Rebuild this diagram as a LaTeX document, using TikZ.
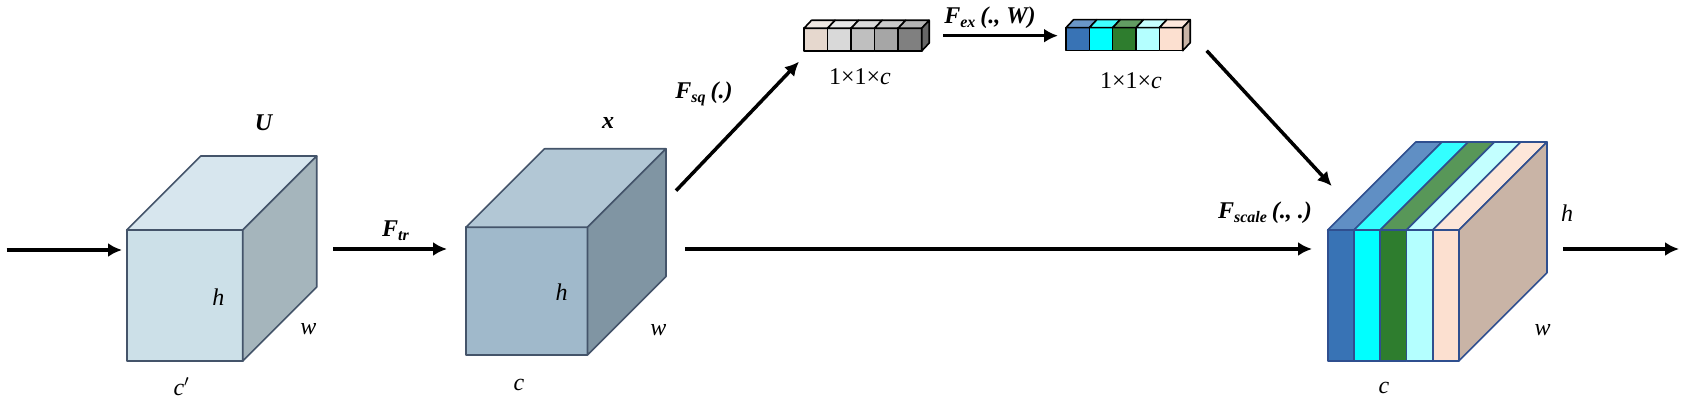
\documentclass[tikz,border=0pt]{standalone}
\usepackage{fontspec}
\setmainfont{Liberation Serif}
\usetikzlibrary{arrows.meta}

\definecolor{ufront}{RGB}{204,224,232}
\definecolor{utop}{RGB}{215,230,238}
\definecolor{uside}{RGB}{165,181,188}
\definecolor{xfront}{RGB}{160,185,203}
\definecolor{xtop}{RGB}{178,199,213}
\definecolor{xside}{RGB}{128,149,163}
\definecolor{cubeedge}{RGB}{68,84,106}
\definecolor{outedge}{RGB}{47,79,143}
\definecolor{outside}{RGB}{201,180,166}
\definecolor{ga}{RGB}{230,216,206}
\definecolor{gb}{RGB}{217,217,217}
\definecolor{gc}{RGB}{191,191,191}
\definecolor{gd}{RGB}{166,166,166}
\definecolor{ge}{RGB}{128,128,128}
\definecolor{ca}{RGB}{56,115,181}
\definecolor{cb}{RGB}{0,255,255}
\definecolor{cc}{RGB}{46,125,46}
\definecolor{cd}{RGB}{180,255,255}
\definecolor{ce}{RGB}{252,224,208}

\newcommand{\bi}[1]{\textbf{\textit{#1}}}
\newcommand{\cuboid}[8]{%
  \filldraw[fill=#6] (#1,#2) rectangle ++(#3,#4);
  \filldraw[fill=#7] (#1,#2) -- ++(#5,-#5) -- ++(#3,0) -- ++(-#5,#5) -- cycle;
  \filldraw[fill=#8] (#1+#3,#2) -- ++(#5,-#5) -- ++(0,#4) -- ++(-#5,#5) -- cycle;
}

\begin{document}
\begin{tikzpicture}[x=0.5pt,y=-0.5pt,
    flow/.style={-{Latex[length=7pt,width=7pt]}, line width=1.75pt},
    lbl/.style={font=\fontsize{12}{14}\selectfont, inner sep=0pt}]
    \useasboundingbox (0,0) rectangle (1692,406);
    \begin{scope}[draw=cubeedge, line width=0.8pt, line join=round]
        \cuboid{126.7}{230}{116}{131}{74}{ufront}{utop}{uside}
        \cuboid{466}{227.3}{121.5}{127.7}{78.5}{xfront}{xtop}{xside}
    \end{scope}
    \begin{scope}[draw=black, line width=0.8pt, line join=round]
        \foreach \i/\c in {0/ga,1/gb,2/gc,3/gd,4/ge} {
            \filldraw[fill=\c] (804+23.54*\i,28.3) rectangle ++(23.54,22.7);
            \filldraw[fill=\c!60!white] (804+23.54*\i,28.3) -- ++(7.5,-8) -- ++(23.54,0) -- ++(-7.5,8) -- cycle;
        }
        \filldraw[fill=ge!80!black] (921.7,28.3) -- ++(7.5,-8) -- ++(0,22.7) -- ++(-7.5,8) -- cycle;
        \foreach \i/\c in {0/ca,1/cb,2/cc,3/cd,4/ce} {
            \filldraw[fill=\c] (1066+23.34*\i,27.7) rectangle ++(23.34,23);
            \filldraw[fill=\c!75!white] (1066+23.34*\i,27.7) -- ++(7.5,-8) -- ++(23.34,0) -- ++(-7.5,8) -- cycle;
        }
        \filldraw[fill=outside] (1182.7,27.7) -- ++(7.5,-8) -- ++(0,23) -- ++(-7.5,8) -- cycle;
    \end{scope}
    \begin{scope}[draw=outedge, line width=0.8pt, line join=round]
        \foreach \i/\c in {0/ca,1/cb,2/cc,3/cd,4/ce} {
            \filldraw[fill=\c!80!white] (1327.7+26.26*\i,230) -- ++(88,-88) -- ++(26.26,0) -- ++(-88,88) -- cycle;
            \filldraw[fill=\c] (1327.7+26.26*\i,230) rectangle ++(26.26,130.7);
        }
        \filldraw[fill=outside] (1459,230) -- ++(88,-88) -- ++(0,130.7) -- ++(-88,88) -- cycle;
    \end{scope}

    \coordinate (in) at (6.7,250);
    \coordinate (Uin) at (122,250);
    \coordinate (Uout) at (333,249);
    \coordinate (Xin) at (447,249);
    \coordinate (Xout) at (685,249);
    \coordinate (Xsq) at (676,190.7);
    \coordinate (Zin) at (799,61.7);
    \coordinate (Zout) at (943,35.7);
    \coordinate (Sin) at (1058,35.7);
    \coordinate (Sout) at (1206.7,50.7);
    \coordinate (Vin) at (1331.7,186);
    \coordinate (Vmain) at (1312,249);
    \coordinate (Vout) at (1563,249);
    \coordinate (out) at (1679,249);
    \draw[flow] (in) -- (Uin);
    \draw[flow] (Uout) -- (Xin);
    \draw[flow] (Xout) -- (Vmain);
    \draw[flow] (Xsq) -- (Zin);
    \draw[flow] (Zout) -- (Sin);
    \draw[flow] (Sout) -- (Vin);
    \draw[flow] (Vout) -- (out);

    \node[lbl] (labU) at (264,123) {\bi{U}};
    \node[lbl] (labUh) at (218.3,296.7) {\textit{h}};
    \node[lbl] (labUw) at (308.3,329.3) {\textit{w}};
    \node[lbl] (labUc) at (181.7,386.7) {\textit{c}$'$};
    \node[lbl] (labtr) at (396,231) {\bi{F}\textsubscript{\bi{tr}}};
    \node[lbl] (labX) at (608,123) {\bi{x}};
    \node[lbl] (labXh) at (561.7,291.7) {\textit{h}};
    \node[lbl] (labXw) at (658.3,330) {\textit{w}};
    \node[lbl] (labXc) at (519,385) {\textit{c}};
    \node[lbl] (labsq) at (704,94) {\bi{F}\textsubscript{\bi{sq}}\,\bi{(.)}};
    \node[lbl] (labZ) at (860,77) {1×1×\textit{c}};
    \node[lbl] (labex) at (990,18) {\bi{F}\textsubscript{\bi{ex}}\,\bi{(., W)}};
    \node[lbl] (labS) at (1131,81) {1×1×\textit{c}};
    \node[lbl] (labsc) at (1265,213) {\bi{F}\textsubscript{\bi{scale}}\,\bi{(., .)}};
    \node[lbl] (labVh) at (1567,213) {\textit{h}};
    \node[lbl] (labVw) at (1542.7,330) {\textit{w}};
    \node[lbl] (labVc) at (1384,388) {\textit{c}};
\end{tikzpicture}
\end{document}
